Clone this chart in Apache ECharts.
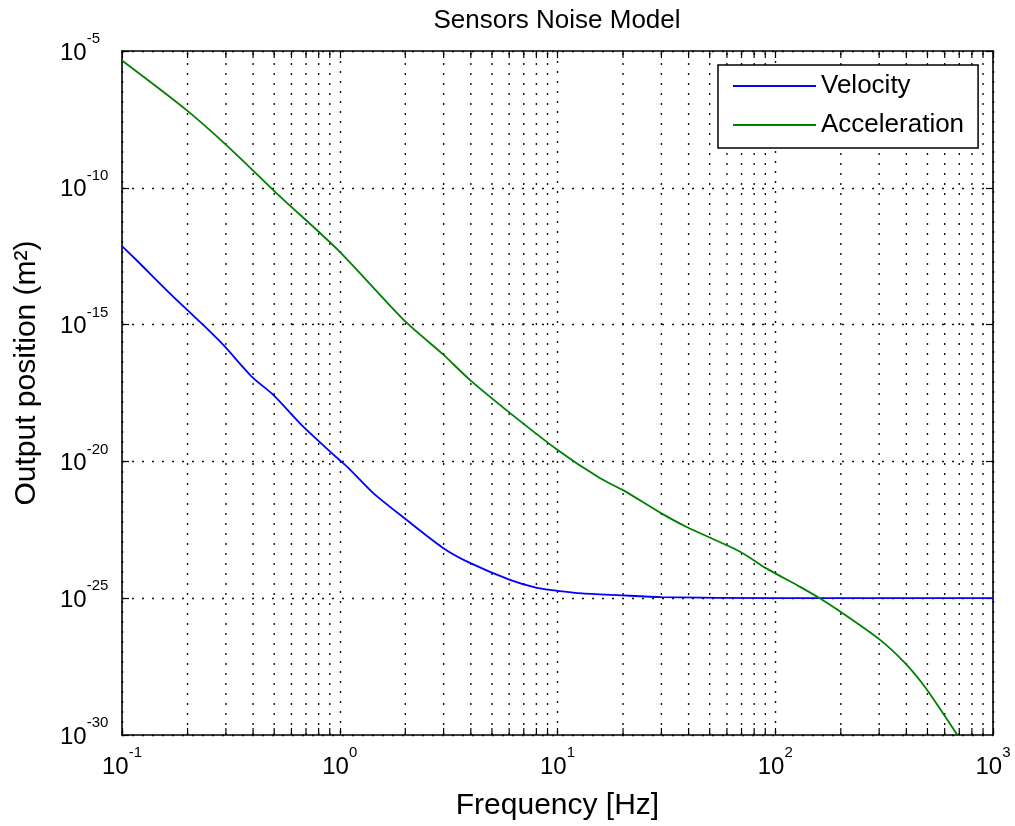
<!DOCTYPE html>
<html>
<head>
<meta charset="utf-8">
<title>Sensors Noise Model</title>
<script src="https://cdn.jsdelivr.net/npm/echarts@6/dist/echarts.min.js"></script>
<style>
  html, body { margin: 0; padding: 0; background: #fff; }
  #chart { width: 1015px; height: 826px; }
</style>
</head>
<body>
<div id="chart"></div>
<script>
// Frequency axis range [Hz] and output axis range [m^2]
const X_MIN = 0.1, X_MAX = 1000;
const Y_MIN = 1e-30, Y_MAX = 1e-5;

// Decade exponents shown as tick labels
const xTickExps = [-1, 0, 1, 2, 3];
const yTickExps = [-30, -25, -20, -15, -10, -5];

// Minor grid positions on the frequency axis
const minorFreqs = [
  0.2, 0.3, 0.4, 0.5, 0.6, 0.7, 0.8, 0.9,
  2, 3, 4, 5, 6, 7, 8, 9,
  20, 30, 40, 50, 60, 70, 80, 90,
  200, 300, 400, 500, 600, 700, 800, 900
];

// Velocity sensor noise
const velocityFreq = [0.1, 0.117, 0.169, 0.232, 0.292, 0.394, 0.495, 0.68, 0.87, 1.0, 1.1, 1.43, 1.95, 2.98, 3.96, 6.05, 8.05, 10, 13, 20, 30, 100, 1000];
const velocityVal  = [7.4e-13, 2.2e-13, 1.2e-14, 1.1e-15, 1.8e-16, 1.26e-17, 2.7e-18, 1.86e-19, 3.0e-20, 1.1e-20, 5.6e-21, 6.8e-22, 9.3e-23, 6.9e-24, 1.95e-24, 4.7e-25, 2.4e-25, 1.86e-25, 1.5e-25, 1.26e-25, 1.1e-25, 1.0e-25, 1.0e-25];

// Acceleration sensor noise
const accelFreq = [0.1, 0.198, 0.319, 0.513, 0.98, 2.0, 3.0, 3.96, 5.94, 9.9, 15.7, 20, 30, 39, 69, 91, 130, 160, 194, 303, 394, 488, 589, 684];
const accelVal  = [4.5e-6, 6.9e-8, 2.4e-9, 6.3e-11, 5.4e-13, 1.3e-15, 7.8e-17, 9.5e-18, 6.6e-19, 2.8e-20, 2.4e-21, 8.9e-22, 1.26e-22, 4.1e-23, 5.0e-24, 1.23e-24, 2.6e-25, 1.0e-25, 3.7e-26, 3.0e-27, 4.3e-28, 5.6e-29, 6.3e-30, 1.05e-30];

const FONT = '"Liberation Sans", Arial, Helvetica, sans-serif';
const BASE_SIZE = 24, EXP_SIZE = 15;
const DOT = [2, 8];
const GRID_COLOR = '#111';

// Text width helper for placing exponents beside the base "10"
const measureCtx = document.createElement('canvas').getContext('2d');
function textWidth(str, size) {
  measureCtx.font = size + 'px "Liberation Sans", Arial, sans-serif';
  return measureCtx.measureText(str).width;
}

// Power-of-ten labels: exponent on a thin first line, shifted right past "10"
function buildPowRich(exps) {
  const w10 = textWidth('10', BASE_SIZE);
  const rich = {};
  exps.forEach(e => {
    const k = String(e).replace('-', 'm');
    const we = textWidth(String(e), EXP_SIZE);
    rich['s' + k] = { fontFamily: FONT, fontSize: EXP_SIZE, lineHeight: 4, color: '#000', padding: [0, 0, 0, w10] };
    rich['b' + k] = { fontFamily: FONT, fontSize: BASE_SIZE, lineHeight: 24, color: '#000', padding: [0, we, 0, 0] };
  });
  return rich;
}
function powLabel(v) {
  const e = Math.round(Math.log10(v));
  const k = String(e).replace('-', 'm');
  return '{s' + k + '|' + e + '}\n{b' + k + '|10}';
}

const zip = (xs, ys) => xs.map((x, i) => [x, ys[i]]);

const chart = echarts.init(document.getElementById('chart'), null, { renderer: 'canvas' });

const axisLine = { show: true, onZero: false, lineStyle: { color: '#000', width: 1.6 } };
const axisTick = { show: true, inside: true, length: 7, lineStyle: { color: '#000', width: 1.2 } };

chart.setOption({
  backgroundColor: '#fff',
  animation: false,
  title: {
    text: 'Sensors Noise Model',
    left: 557, top: 8, textAlign: 'center', padding: 0,
    textStyle: { fontFamily: FONT, fontSize: 26, fontWeight: 'normal', color: '#000' }
  },
  legend: {
    data: ['Velocity', 'Acceleration'],
    orient: 'vertical',
    left: 718, top: 65,
    padding: [8, 14, 10, 15],
    itemGap: 13,
    itemWidth: 83, itemHeight: 2,
    icon: 'rect',
    backgroundColor: '#fff',
    borderColor: '#000', borderWidth: 1.5,
    textStyle: { fontFamily: FONT, fontSize: 26, lineHeight: 26, color: '#000' }
  },
  grid: { left: 122, right: 22, top: 51, bottom: 91, containLabel: false, outerBoundsMode: 'none' },
  xAxis: [{
    type: 'log', logBase: 10, min: X_MIN, max: X_MAX, interval: 1,
    position: 'bottom',
    name: 'Frequency [Hz]', nameLocation: 'middle', nameGap: 56, nameMoveOverlap: false,
    nameTextStyle: { fontFamily: FONT, fontSize: 30, color: '#000' },
    axisLine, axisTick,
    axisLabel: {
      margin: 16, formatter: powLabel, rich: buildPowRich(xTickExps),
      showMinLabel: true, showMaxLabel: true, hideOverlap: false
    },
    splitLine: { show: true, lineStyle: { color: GRID_COLOR, width: 1.4, type: DOT } },
    minorTick: { show: false }
  }, {
    type: 'log', logBase: 10, min: X_MIN, max: X_MAX, interval: 1,
    position: 'top',
    axisLine, axisTick,
    axisLabel: { show: false },
    splitLine: { show: false }
  }],
  yAxis: [{
    // lower end is niced from the data down to the next 5-decade step (1e-30)
    type: 'log', logBase: 10, max: Y_MAX, interval: 5, splitNumber: 5,
    position: 'left',
    name: 'Output position (m²)', nameLocation: 'middle', nameGap: 80, nameMoveOverlap: false,
    nameTextStyle: { fontFamily: FONT, fontSize: 30, color: '#000', padding: [0, 0, 0, 40] },
    axisLine, axisTick,
    axisLabel: {
      margin: 62, align: 'left', formatter: powLabel, rich: buildPowRich(yTickExps),
      showMinLabel: true, showMaxLabel: true, hideOverlap: false
    },
    splitLine: { show: true, lineStyle: { color: GRID_COLOR, width: 1.4, type: DOT } }
  }, {
    type: 'log', logBase: 10, min: Y_MIN, max: Y_MAX, interval: 5, splitNumber: 5,
    position: 'right',
    axisLine, axisTick,
    axisLabel: { show: false },
    splitLine: { show: false }
  }],
  series: [
    {
      // minor frequency grid lines with their tick marks on both frame edges
      type: 'custom',
      name: 'minorGrid',
      xAxisIndex: 0, yAxisIndex: 1,
      silent: true, z: 1,
      data: minorFreqs.map(f => [f]),
      encode: { x: 0 },
      renderItem(params, api) {
        const f = api.value(0);
        const pb = api.coord([f, Y_MIN]);
        const pt = api.coord([f, Y_MAX]);
        return {
          type: 'group',
          children: [
            { type: 'line', shape: { x1: pb[0], y1: pb[1], x2: pt[0], y2: pt[1] },
              style: { stroke: GRID_COLOR, lineWidth: 1.4, lineDash: DOT } },
            { type: 'line', shape: { x1: pb[0], y1: pb[1], x2: pb[0], y2: pb[1] - 7 },
              style: { stroke: '#000', lineWidth: 1.2 } },
            { type: 'line', shape: { x1: pt[0], y1: pt[1], x2: pt[0], y2: pt[1] + 7 },
              style: { stroke: '#000', lineWidth: 1.2 } }
          ]
        };
      }
    },
    {
      name: 'Velocity', type: 'line',
      data: zip(velocityFreq, velocityVal),
      showSymbol: false, symbol: 'none', z: 3, smooth: 0.25,
      lineStyle: { color: '#0000ff', width: 1.8 },
      itemStyle: { color: '#0000ff' }
    },
    {
      name: 'Acceleration', type: 'line',
      data: zip(accelFreq, accelVal),
      showSymbol: false, symbol: 'none', z: 3, smooth: 0.25,
      lineStyle: { color: '#008000', width: 1.8 },
      itemStyle: { color: '#008000' }
    }
  ]
});
</script>
</body>
</html>
